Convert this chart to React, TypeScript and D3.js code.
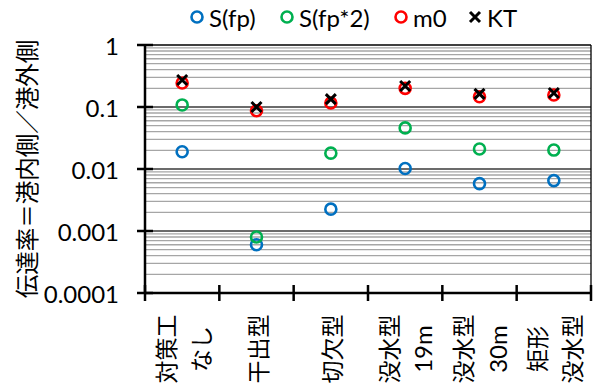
import React from "react";
import { scaleLog, scaleBand, range } from "d3";

// categories: each label is a list of lines (rotated text)
const categories = ["対策工なし", "干出型", "切欠型", "没水型19m", "没水型30m", "矩形没水型"];
const categoryLines = [["対策工", "なし"], ["干出型"], ["切欠型"], ["没水型", "19m"], ["没水型", "30m"], ["矩形", "没水型"]];

const sFp = [0.019, 0.0006, 0.00225, 0.0102, 0.0058, 0.0065];
const sFp2 = [0.108, 0.0008, 0.018, 0.046, 0.021, 0.0202];
const m0 = [0.244, 0.087, 0.116, 0.2, 0.146, 0.156];
const kt = [0.272, 0.1, 0.134, 0.218, 0.163, 0.168];

const yTicks = [0.0001, 0.001, 0.01, 0.1, 1];
const yTickLabels = ["0.0001", "0.001", "0.01", "0.1", "1"];
const yTitle = "伝達率＝港内側／港外側";

const seriesNames = ["S(fp)", "S(fp*2)", "m0", "KT"];
const seriesColors = ["#0070C0", "#00B050", "#FF0000", "#000000"];

const W = 597, H = 390;
const left = 145, right = 591, top = 45, bottom = 293;
const latin = "Lato, 'Noto Sans CJK JP', sans-serif";
const cjk = "'Noto Sans CJK JP', sans-serif";

const x = scaleBand().domain(categories).range([left, right]);
const y = scaleLog().domain([0.0001, 1]).range([bottom, top]);

const minorTicks = y.ticks().filter((t) => !yTicks.some((d) => Math.abs(d - t) / d < 1e-6));

const Circle = ({ cx, cy, color }) => (
  <circle cx={cx} cy={cy} r={5.5} fill="none" stroke={color} strokeWidth={2.6} />
);
const Cross = ({ cx, cy }) => (
  <path d={`M${cx - 5},${cy - 5}L${cx + 5},${cy + 5}M${cx + 5},${cy - 5}L${cx - 5},${cy + 5}`} stroke="#000" strokeWidth={3} />
);

const legendX = [197, 287, 401, 475];

export default function App() {
  const cx = (i) => x(categories[i]) + x.bandwidth() / 2;
  const circleSeries = [sFp, sFp2, m0];
  return (
    <svg width={W} height={H} style={{ position: "absolute", left: 0, top: 0, background: "#fff" }}>
      {/* minor grid */}
      {minorTicks.map((t, i) => (
        <line key={"mn" + i} x1={left} x2={right} y1={y(t)} y2={y(t)} stroke="#a6a6a6" strokeWidth={1.3} />
      ))}
      {yTicks.slice(1, -1).map((t, i) => (
        <line key={"mj" + i} x1={left} x2={right} y1={y(t)} y2={y(t)} stroke="#3a3a3a" strokeWidth={1.6} />
      ))}
      {/* frame */}
      <line x1={left} x2={right} y1={top} y2={top} stroke="#000" strokeWidth={1.3} />
      <line x1={right} x2={right} y1={top} y2={bottom} stroke="#000" strokeWidth={1.3} />

      {/* axes */}
      <line x1={left} x2={left} y1={top} y2={bottom} stroke="#000" strokeWidth={2.5} />
      {yTicks.map((t, i) => (
        <g key={"yt" + i}>
          <line x1={left - 8} x2={left + 8} y1={y(t)} y2={y(t)} stroke="#000" strokeWidth={2.5} />
          <text x={119} y={y(t)} textAnchor="end" dominantBaseline="central" fontFamily={latin} fontSize={24}>
            {yTickLabels[i]}
          </text>
        </g>
      ))}
      <line x1={left} x2={right} y1={bottom} y2={bottom} stroke="#000" strokeWidth={2.5} />
      {range(categories.length + 1).map((i) => {
        const xx = i < categories.length ? x(categories[i]) : right;
        return <line key={"xt" + i} x1={xx} x2={xx} y1={bottom - 8} y2={bottom + 8} stroke="#000" strokeWidth={2.5} />;
      })}

      {/* category labels, rotated */}
      {categoryLines.map((lines, i) =>
        lines.map((ln, j) => {
          const lx = cx(i) + (j - (lines.length - 1) / 2) * 35;
          const isLatin = /^[0-9a-z]+$/.test(ln);
          return (
            <text
              key={"cl" + i + j}
              transform={`translate(${lx},349) rotate(-90)`}
              textAnchor="middle"
              dominantBaseline="central"
              fontFamily={isLatin ? latin : cjk}
              fontSize={isLatin ? 24 : 23}
            >
              {ln}
            </text>
          );
        })
      )}

      {/* y title */}
      <text transform={`translate(26,${(top + bottom) / 2}) rotate(-90)`} textAnchor="middle" dominantBaseline="central" fontFamily={cjk} fontSize={23.5}>
        {yTitle}
      </text>

      {/* data */}
      {circleSeries.map((s, k) =>
        s.map((v, i) => <Circle key={"c" + k + i} cx={cx(i)} cy={y(v)} color={seriesColors[k]} />)
      )}
      {kt.map((v, i) => <Cross key={"k" + i} cx={cx(i)} cy={y(v)} />)}

      {/* legend */}
      {seriesNames.map((n, k) => (
        <g key={"lg" + k}>
          {k < 3 ? <Circle cx={legendX[k]} cy={17} color={seriesColors[k]} /> : <Cross cx={legendX[k]} cy={17} />}
          <text x={legendX[k] + 12} y={17} dominantBaseline="central" fontFamily={latin} fontSize={24}>
            {n}
          </text>
        </g>
      ))}
    </svg>
  );
}
